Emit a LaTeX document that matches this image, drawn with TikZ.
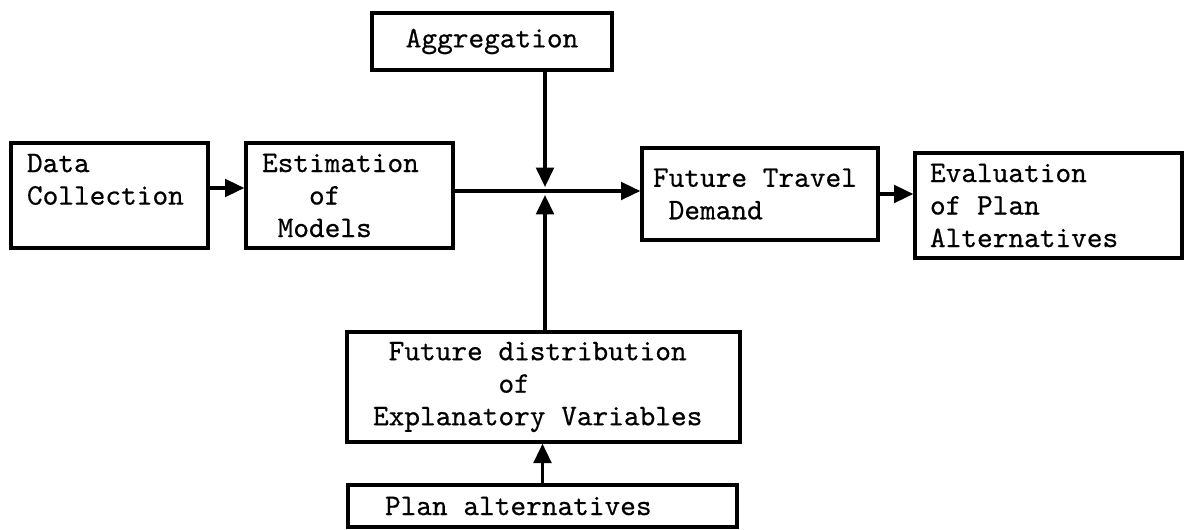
\documentclass[tikz,border=0pt]{standalone}
\usepackage{fontspec}
\newfontfamily\typewr[FakeBold=0.5]{lmmono10-regular.otf}
\usetikzlibrary{arrows.meta,positioning}

\begin{document}
\begin{tikzpicture}[
    blk/.style={draw, line width=1.9pt,
                font=\typewr\fontsize{17}{18.5}\selectfont,
                execute at begin node={\spaceskip=0pt\xspaceskip=0pt},
                inner xsep=0.3cm, inner ysep=0pt, align=left},
    flow/.style={line width=1.9pt, -{Triangle[length=11pt,width=10pt]}}
  ]
    \useasboundingbox (0,0) rectangle (23.7,-10.6);

    % Model building
    \node[blk, minimum width=3.9cm, text width=3.3cm, minimum height=2.1cm,
          inner xsep=0.32cm] (data) at (2.19,-3.91) {%
      Data\\Collection\\\mbox{}};
    \node[blk, minimum width=4.14cm, text width=3.5cm, minimum height=2.1cm,
          inner xsep=0.32cm] (est) at (6.99,-3.91) {%
      Estimation\\\phantom{Est}of\\\phantom{E}Models};

    % Inputs to the forecast
    \node[blk, minimum width=4.8cm, text width=4.2cm, minimum height=1.14cm,
          align=center] (agg) at (9.84,-0.83) {Aggregation};
    \node[blk, minimum width=7.86cm, text width=6.82cm, minimum height=2.2cm,
          inner xsep=0.52cm] (fdist) at (10.87,-7.74) {%
      \phantom{E}Future distribution\\
      \phantom{EFuture~}of\\
      Explanatory Variables};
    \node[blk, minimum width=7.78cm, text width=6.3cm, minimum height=0.84cm,
          inner xsep=0.74cm] (plan) at (10.85,-10.12) {Plan alternatives};

    % Forecast and evaluation
    \node[blk, minimum width=4.72cm, text width=4.28cm, minimum height=1.84cm,
          inner xsep=0.22cm] (ftd) at (15.2,-3.88) {%
      Future Travel\\\phantom{F}Demand};
    \node[blk, minimum width=5.34cm, text width=4.74cm, minimum height=2.1cm,
          inner xsep=0.3cm] (eval) at (20.97,-4.11) {%
      Evaluation\\of Plan\\Alternatives};

    % Connectors
    \coordinate (j) at (10.9,-3.82);
    \draw[flow] ([yshift=0.15cm]data.east) -- ([yshift=0.15cm]est.west);
    \draw[flow] (est.east |- j) -- (ftd.west |- j);
    \draw[flow] (agg.south -| j) -- ([yshift=0.08cm]j);
    \draw[flow] (fdist.north -| j) -- ([yshift=-0.08cm]j);
    \draw[flow] (plan.north) -- (plan.north |- fdist.south);
    \draw[flow] (ftd.east) -- (ftd.east -| eval.west);
\end{tikzpicture}
\end{document}
